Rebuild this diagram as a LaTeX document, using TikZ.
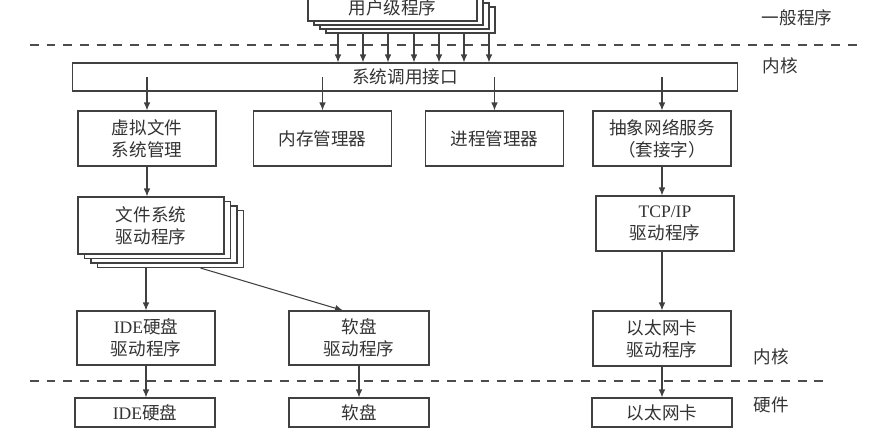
\documentclass[tikz,border=0pt]{standalone}
\usepackage{fontspec}
\setmainfont{Liberation Serif}
\newfontfamily\cjk{Noto Sans CJK SC}
\usetikzlibrary{arrows.meta,calc}

\tikzset{
    box/.style={draw=black!75, line width=0.6pt, fill=white, align=center,
        font=\cjk\fontsize{10}{12.5}\selectfont, text=black!80, inner sep=1pt},
    midbox/.style={box, minimum width=2.76cm, minimum height=1.1cm},
    hwbox/.style={box, minimum width=2.8cm, minimum height=0.58cm},
    stackbox/.style={box, minimum width=2.92cm, minimum height=1.14cm},
    userbox/.style={box, minimum width=3.38cm, minimum height=0.52cm},
    link/.style={-{Latex[length=1.6mm,width=1.3mm]}, line width=0.6pt, draw=black!75},
    plainlink/.style={line width=0.6pt, draw=black!75},
    separator/.style={dash pattern=on 5pt off 4.5pt, line width=0.6pt, draw=black!70},
    layer/.style={font=\cjk\fontsize{10}{12}\selectfont, text=black!80}
}

\begin{document}
\begin{tikzpicture}[x=0.02cm, y=-0.02cm]
    \useasboundingbox (0,0) rectangle (876,436);
    \clip (0,0) rectangle (876,436);

    % user programs (stacked)
    \foreach \k in {3,2,1}
        \node[userbox] (user\k) at ({392.5+6*\k},{8+4*\k}) {};
    \node[userbox] (user) at (392.5,8) {用户级程序};

    % kernel
    \node[box, minimum width=13.32cm, minimum height=0.56cm] (syscall) at (405,77) {系统调用接口};
    \node[midbox] (vfs) at (147,138.5) {虚拟文件\\系统管理};
    \node[midbox] (mem) at (322.5,138.5) {内存管理器};
    \node[midbox] (proc) at (494.5,138.5) {进程管理器};
    \node[midbox] (net) at (662,138.5) {抽象网络服务\\（套接字）};

    \foreach \k in {3,2,1}
        \node[stackbox] (fs\k) at ({151+6.5*\k},{225.5+4.5*\k}) {};
    \node[stackbox] (fs) at (151,225.5) {文件系统\\驱动程序};
    \node[midbox] (tcp) at (665,223.5) {\textrm{TCP/IP}\\驱动程序};

    \node[midbox, minimum height=1.08cm] (idedrv) at (146,338) {\textrm{IDE}硬盘\\驱动程序};
    \node[midbox, minimum width=2.8cm, minimum height=1.08cm] (flopdrv) at (359,338) {软盘\\驱动程序};
    \node[midbox, minimum height=1.1cm] (ethdrv) at (662,338.5) {以太网卡\\驱动程序};

    % hardware
    \node[hwbox] (idedisk) at (145,412.5) {\textrm{IDE}硬盘};
    \node[hwbox] (floppy) at (359,412.5) {软盘};
    \node[hwbox] (eth) at (662,412.5) {以太网卡};

    % layer separators and labels
    \draw[separator] (30,45) -- (862,45);
    \draw[separator] (30,381) -- (828,381);
    \node[layer] (lbl-user) at (797,18) {一般程序};
    \node[layer] (lbl-kernel) at (780,66) {内核};
    \node[layer] (lbl-kernel2) at (771,357) {内核};
    \node[layer] (lbl-hw) at (771,405) {硬件};

    % connectors
    \foreach \x in {338,363,388,414,439,464,489}
        \draw[link] (\x,0 |- user3.south) -- (\x,0 |- syscall.north);
    \foreach \n in {vfs,mem,proc,net}
        \draw[link] (\n.north |- syscall.center) -- (\n.north);
    \draw[link] (vfs.south) -- (vfs.south |- fs.north);
    \draw[link] (net.south) -- (net.south |- tcp.north);
    \draw[link] (idedrv.north |- fs3.south) -- (idedrv.north);
    \draw[link] ($(fs3.south)+(30,0)$) -- ($(flopdrv.north)+(-16,0)$);
    \draw[link] (tcp.south -| ethdrv.north) -- (ethdrv.north);
    \draw[link] (idedrv.south) -- (idedrv.south |- idedisk.north);
    \draw[link] (flopdrv.south) -- (floppy.north);
    \draw[link] (ethdrv.south) -- (eth.north);
\end{tikzpicture}
\end{document}
